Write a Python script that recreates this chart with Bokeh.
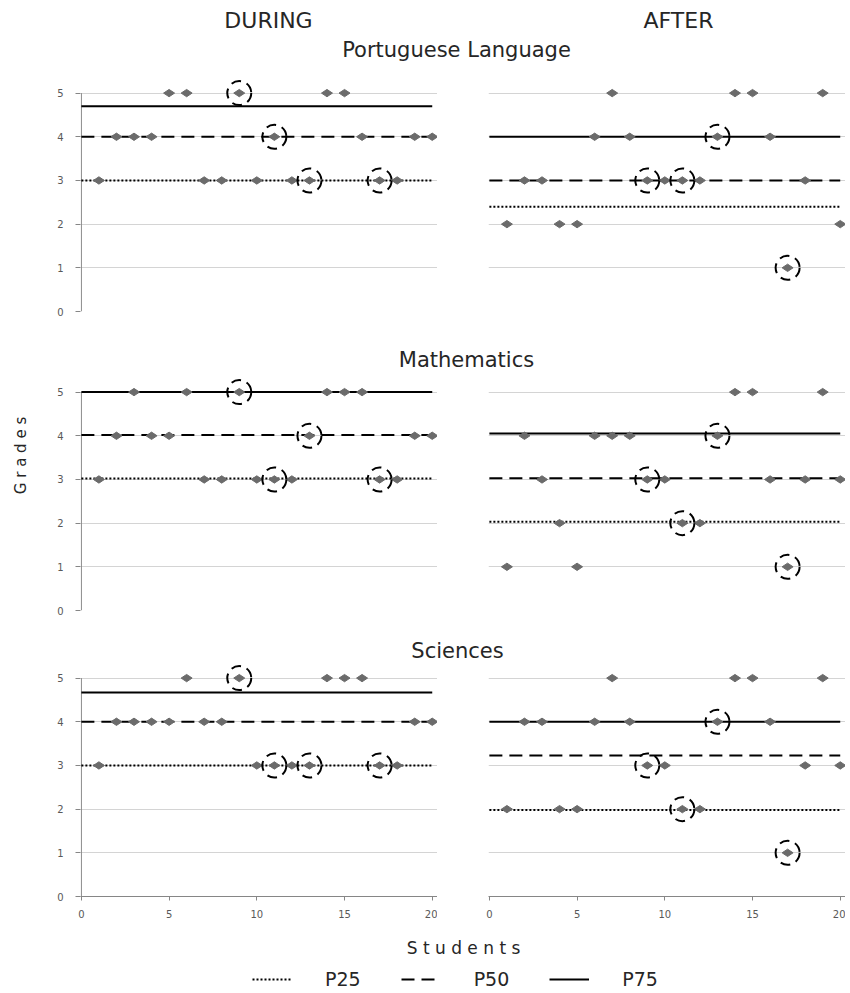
import math
from bokeh.plotting import figure
from bokeh.models import Range1d, FixedTicker, Label, Legend, LegendItem, Grid
from bokeh.layouts import column, row
from bokeh.embed import file_html
from bokeh.resources import INLINE

# ---------------- data ----------------
students = list(range(1, 21))
x_ticks = [0, 5, 10, 15, 20]
grade_ticks = [0, 1, 2, 3, 4, 5]
periods = ["DURING", "AFTER"]
subjects = ["Portuguese Language", "Mathematics", "Sciences"]
percentile_labels = ["P25", "P50", "P75"]
highlighted = [9, 11, 13, 17]

port_during = [3, 4, 4, 4, 5, 5, 3, 3, 5, 3, 4, 3, 3, 5, 5, 4, 3, 3, 4, 4]
port_after = [2, 3, 3, 2, 2, 4, 5, 4, 3, 3, 3, 3, 4, 5, 5, 4, 1, 3, 5, 2]
math_during = [3, 4, 5, 4, 4, 5, 3, 3, 5, 3, 3, 3, 4, 5, 5, 5, 3, 3, 4, 4]
math_after = [1, 4, 3, 2, 1, 4, 4, 4, 3, 3, 2, 2, 4, 5, 5, 3, 1, 3, 5, 3]
sci_during = [3, 4, 4, 4, 4, 5, 4, 4, 5, 3, 3, 3, 3, 5, 5, 5, 3, 3, 4, 4]
sci_after = [2, 4, 4, 2, 2, 4, 5, 4, 3, 3, 2, 2, 4, 5, 5, 4, 1, 3, 5, 3]

# percentiles P25, P50, P75
port_during_pct = [3.0, 4.0, 4.7]
port_after_pct = [2.4, 3.0, 4.0]
math_during_pct = [3.02, 4.02, 5.0]
math_after_pct = [2.03, 3.03, 4.05]
sci_during_pct = [3.0, 4.0, 4.67]
sci_after_pct = [1.98, 3.23, 4.0]

# ---------------- styles ----------------
FONT = "DejaVu Sans"
AXIS_GRAY = "#868686"
GRID_GRAY = "#d4d4d4"
TICK_TXT = "#595959"
TXT = "#262626"
POINT = "#6b6b6b"
PCT_DASH = ["2 2", "13 7", "solid"]

SIDE_W = 34
FRAME_W = 357
FRAME_H = 235
LEFT_B = 46
RIGHT_B = 51
MAIN_W = LEFT_B + FRAME_W + RIGHT_B + FRAME_W
TOTAL_H = 990
BASE_FIX = 8  # label baseline render offset


def make_panel(grades, pct, left, bottom):
    bb = 28 if bottom else 10
    lb = LEFT_B if left else RIGHT_B
    p = figure(width=lb + FRAME_W, height=FRAME_H + bb,
               x_range=Range1d(-0.05, 20.3), y_range=Range1d(0, 5.38),
               x_axis_location="below" if bottom else None,
               y_axis_location="left" if left else None,
               output_backend="svg", toolbar_location=None,
               min_border_left=lb, min_border_right=0,
               min_border_top=0, min_border_bottom=bb)
    p.outline_line_color = None
    p.background_fill_color = "white"
    p.border_fill_color = "white"
    p.grid.visible = False
    p.add_layout(Grid(dimension=1, ticker=FixedTicker(ticks=grade_ticks),
                      grid_line_color=GRID_GRAY, grid_line_width=1), "center")
    if left:
        ax = p.yaxis[0]
        ax.ticker = FixedTicker(ticks=grade_ticks)
        ax.axis_line_color = None
        ax.major_tick_line_color = AXIS_GRAY
        ax.major_tick_out = 5
        ax.major_tick_in = 0
        ax.minor_tick_line_color = None
        ax.major_label_standoff = 12
        ax.major_label_text_font = FONT
        ax.major_label_text_font_size = "10px"
        ax.major_label_text_color = TICK_TXT
        p.segment(x0=[x_ticks[0]], y0=[grade_ticks[0]], x1=[x_ticks[0]], y1=[grade_ticks[-1]],
                  line_color=AXIS_GRAY, line_width=1)
    if bottom:
        ax = p.xaxis[0]
        ax.ticker = FixedTicker(ticks=x_ticks)
        ax.axis_line_color = AXIS_GRAY
        ax.major_tick_line_color = AXIS_GRAY
        ax.major_tick_out = 4
        ax.major_tick_in = 0
        ax.minor_tick_line_color = None
        ax.major_label_standoff = 9
        ax.major_label_text_font = FONT
        ax.major_label_text_font_size = "10px"
        ax.major_label_text_color = TICK_TXT
    for v, dash in zip(pct, PCT_DASH):
        p.line(x=[x_ticks[0], x_ticks[-1]], y=[v, v], line_color="black",
               line_width=2, line_dash=dash)
    p.scatter(students, grades, marker="diamond", angle=math.pi / 2, size=11,
              fill_color=POINT, line_color=POINT)
    hy = [grades[s - 1] for s in highlighted]
    p.scatter(highlighted, hy, marker="circle", size=24, fill_color=None,
              line_color="black", line_width=2, line_dash="10 6")
    return p


def text_fig(w, h):
    f = figure(width=w, height=h, x_range=Range1d(0, w), y_range=Range1d(0, h),
               x_axis_location=None, y_axis_location=None,
               output_backend="svg", toolbar_location=None,
               min_border_left=0, min_border_right=0, min_border_top=0, min_border_bottom=0)
    f.outline_line_color = None
    f.grid.visible = False
    return f


def add_text(f, x, y, text, size, angle=0.0):
    f.add_layout(Label(x=x, y=y + BASE_FIX, text=text, angle=angle, text_font=FONT,
                       text_font_size=size, text_color=TXT, text_align="center",
                       text_baseline="alphabetic"))


# header (page y 0..76)
header = text_fig(MAIN_W, 76)
add_text(header, 268 - SIDE_W, 76 - 28, periods[0], "22px")
add_text(header, 678 - SIDE_W, 76 - 28, periods[1], "22px")
add_text(header, 456 - SIDE_W, 76 - 57, subjects[0], "21px")

tl = make_panel(port_during, port_during_pct, True, False)
tr = make_panel(port_after, port_after_pct, False, False)

# page y 321..375
math_title = text_fig(MAIN_W, 54)
add_text(math_title, 466 - SIDE_W, 375 - 367, subjects[1], "21px")

ml = make_panel(math_during, math_during_pct, True, False)
mr = make_panel(math_after, math_after_pct, False, False)

# page y 620..661
sci_title = text_fig(MAIN_W, 41)
add_text(sci_title, 457 - SIDE_W, 661 - 658, subjects[2], "21px")

bl = make_panel(sci_during, sci_during_pct, True, True)
br = make_panel(sci_after, sci_after_pct, False, True)

# footer page y 924..990
footer = text_fig(MAIN_W, 66)
add_text(footer, 463 - SIDE_W, 990 - 955, "S t u d e n t s", "17px")
rs = [footer.line(x=[math.nan, math.nan], y=[math.nan, math.nan], line_color="black",
                  line_width=2, line_dash=d) for d in PCT_DASH]
legend = Legend(items=[LegendItem(label=l, renderers=[r]) for l, r in zip(percentile_labels, rs)],
                orientation="horizontal", location=(252 - SIDE_W, 0), glyph_width=40,
                glyph_height=20, label_standoff=33, spacing=40, padding=0, margin=0,
                border_line_color=None, background_fill_alpha=0,
                label_text_font=FONT, label_text_font_size="19px", label_text_color=TXT)
footer.add_layout(legend, "center")

# side strip with the y title (page x 0..34)
side = text_fig(SIDE_W, TOTAL_H)
side.add_layout(Label(x=20, y=TOTAL_H - 455, text="G r a d e s", angle=math.pi / 2,
                      text_font=FONT, text_font_size="15px", text_color=TXT,
                      text_align="center", text_baseline="middle"))

main = column(header, row(tl, tr), math_title, row(ml, mr), sci_title, row(bl, br), footer)
layout = row(side, main)

open("out.html", "w").write(file_html(layout, INLINE))
